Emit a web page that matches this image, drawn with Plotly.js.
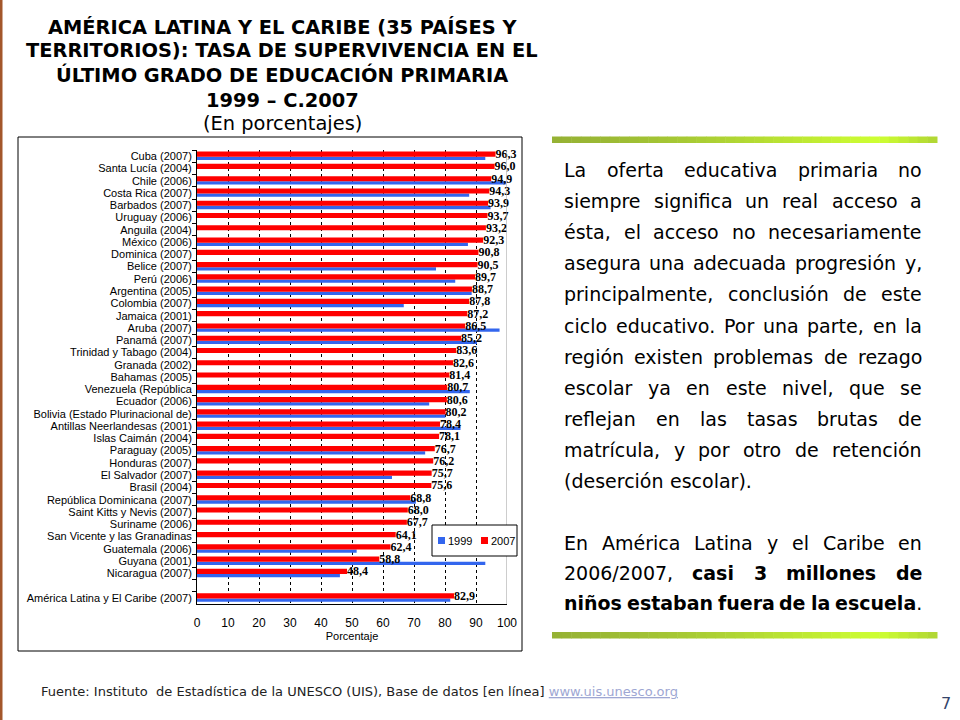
<!DOCTYPE html>
<html>
<head>
<meta charset="utf-8">
<script src="https://cdn.plot.ly/plotly-3.0.1.min.js"></script>
<style>
html,body{margin:0;padding:0;background:#ffffff;}
#chart{width:960px;height:720px;}
</style>
</head>
<body>
<div id="chart"></div>
<script>
// ---------------- DATA ----------------
const countries = [
  'Cuba (2007)','Santa Lucía (2004)','Chile (2006)','Costa Rica (2007)','Barbados (2007)',
  'Uruguay (2006)','Anguila (2004)','México (2006)','Dominica (2007)','Belice (2007)',
  'Perú (2006)','Argentina (2005)','Colombia (2007)','Jamaica (2001)','Aruba (2007)',
  'Panamá (2007)','Trinidad y Tabago (2004)','Granada (2002)','Bahamas (2005)','Venezuela (República',
  'Ecuador (2006)','Bolivia (Estado Plurinacional de)','Antillas Neerlandesas (2001)','Islas Caimán (2004)','Paraguay (2005)',
  'Honduras (2007)','El Salvador (2007)','Brasil (2004)','República Dominicana (2007)','Saint Kitts y Nevis (2007)',
  'Suriname (2006)','San Vicente y las Granadinas','Guatemala (2006)','Guyana (2001)','Nicaragua (2007)',
  'América Latina y El Caribe (2007)'
];
const rate1999 = [
  93.0, null, 99.6, 87.8, 94.7,
  null, null, 87.4, null, 77.1,
  83.3, 88.6, 66.7, null, 97.6,
  90.3, null, null, null, 88.0,
  74.9, 80.1, 85.0, null, 73.6,
  null, 62.9, null, 70.6, null,
  null, null, 51.5, 93.0, 46.1,
  81.7
];
const rate2007 = [
  96.3, 96.0, 94.9, 94.3, 93.9,
  93.7, 93.2, 92.3, 90.8, 90.5,
  89.7, 88.7, 87.8, 87.2, 86.5,
  85.2, 83.6, 82.6, 81.4, 80.7,
  80.6, 80.2, 78.4, 78.1, 76.7,
  76.2, 75.7, 75.6, 68.8, 68.0,
  67.7, 64.1, 62.4, 58.8, 48.4,
  82.9
];
const seriesNames = ['1999', '2007'];
const seriesColors = ['#3366ee', '#ff0000'];
const xTickVals = [0, 10, 20, 30, 40, 50, 60, 70, 80, 90, 100];
const xAxisTitle = 'Porcentaje';
const gapAfter = 35;      // blank row before the regional total
const gapLabel = ' ';

const titleLines = [
  '<b>AMÉRICA LATINA Y EL CARIBE (35 PAÍSES Y</b>',
  '<b>TERRITORIOS): TASA DE SUPERVIVENCIA EN EL</b>',
  '<b>ÚLTIMO GRADO DE EDUCACIÓN PRIMARIA</b>',
  '<b>1999 – C.2007</b>',
  '(En porcentajes)'
];
const para1 = [
  'La oferta educativa primaria no',
  'siempre significa un real acceso a',
  'ésta, el acceso no necesariamente',
  'asegura una adecuada progresión y,',
  'principalmente, conclusión de este',
  'ciclo educativo. Por una parte, en la',
  'región existen problemas de rezago',
  'escolar ya en este nivel, que se',
  'reflejan en las tasas brutas de',
  'matrícula, y por otro de retención',
  '(deserción escolar).'
];
const para2 = [
  'En América Latina y el Caribe en',
  '2006/2007, *casi* *3* *millones* *de*',
  '*niños* *estaban* *fuera* *de* *la* *escuela*.'
];
const sourceText = 'Fuente: Instituto  de Estadística de la UNESCO (UIS), Base de datos [en línea] ';
const sourceLink = 'www.uis.unesco.org';
const pageNumber = '7';

// ---------------- BUILD ----------------
const yCats = countries.slice(0, gapAfter).concat([gapLabel], countries.slice(gapAfter));
const withGap = arr => arr.slice(0, gapAfter).concat([null], arr.slice(gapAfter));
const x1999 = withGap(rate1999);
const x2007 = withGap(rate2007);
const fmt = v => (v === null ? '' : v.toFixed(1).replace('.', ','));

const L = 197, T = 150, PW = 310, PH = 454;
const X = px => (px - L) / PW;
const Y = py => 1 - (py - T) / PH;

const traces = [
  {
    type: 'bar', orientation: 'h', name: seriesNames[0],
    y: yCats, x: x1999,
    marker: {color: seriesColors[0]},
    width: 0.27, offset: 0.05,
    showlegend: false, hoverinfo: 'x+y'
  },
  {
    type: 'bar', orientation: 'h', name: seriesNames[1],
    y: yCats, x: x2007,
    marker: {color: seriesColors[1]},
    width: 0.42, offset: -0.37,
    text: x2007.map(fmt), textposition: 'outside', textangle: 0,
    constraintext: 'none', cliponaxis: false,
    textfont: {family: 'Liberation Serif', size: 12, color: '#000000', weight: 'bold'},
    showlegend: false, hoverinfo: 'x+y'
  }
];

const shapes = [];
const annotations = [];

// left brown strip
shapes.push({type: 'rect', xref: 'paper', yref: 'paper', x0: X(0), x1: X(2.5), y0: Y(0), y1: Y(720),
  fillcolor: '#a3572b', line: {width: 0}});
// chart frame
shapes.push({type: 'rect', xref: 'paper', yref: 'paper', x0: X(18), x1: X(522), y0: Y(137), y1: Y(651),
  line: {color: '#000000', width: 1}});
// plot-area right border at 100
shapes.push({type: 'line', xref: 'x', yref: 'paper', x0: 100, x1: 100, y0: 0, y1: 1,
  line: {color: '#9a9a9a', width: 1}});

// green gradient bars
function greenBar(yTop, yBot) {
  const x0 = 552, x1 = 937, n = 40;
  const dark = [150, 178, 52], light = [206, 255, 51];
  for (let i = 0; i < n; i++) {
    const t = (i + 0.5) / n;
    const f = t < 0.85 ? Math.pow(t / 0.85, 1.3) : 1 - 0.55 * (t - 0.85) / 0.15;
    const c = dark.map((d, k) => Math.round(d + (light[k] - d) * f));
    shapes.push({type: 'rect', xref: 'paper', yref: 'paper',
      x0: X(x0 + (x1 - x0) * i / n), x1: X(x0 + (x1 - x0) * (i + 1) / n + 0.5),
      y0: Y(yTop), y1: Y(yBot), fillcolor: 'rgb(' + c.join(',') + ')', line: {width: 0}});
  }
}
greenBar(136.5, 143);
greenBar(632, 638.5);

// legend (compact, Excel style)
shapes.push({type: 'rect', xref: 'paper', yref: 'paper', x0: X(432), x1: X(517), y0: Y(525), y1: Y(556),
  fillcolor: '#ffffff', line: {color: '#000000', width: 1}});
const legendX = [438, 481];
seriesNames.forEach((nm, i) => {
  shapes.push({type: 'rect', xref: 'paper', yref: 'paper',
    x0: X(legendX[i]), x1: X(legendX[i] + 7), y0: Y(537), y1: Y(544),
    fillcolor: seriesColors[i], line: {width: 0}});
  annotations.push({xref: 'paper', yref: 'paper', x: X(legendX[i] + 8.5), y: Y(540.5),
    xanchor: 'left', yanchor: 'middle', showarrow: false, borderpad: 0, text: nm,
    font: {family: 'Liberation Sans', size: 11, color: '#000000'}});
});

// title
const titleY = [27, 51, 75, 100, 123];
titleLines.forEach((t, i) => {
  annotations.push({xref: 'paper', yref: 'paper', x: X(282), y: Y(titleY[i]),
    xanchor: 'center', yanchor: 'middle', showarrow: false, text: t,
    font: {family: 'DejaVu Sans', size: 19.4, color: '#000000'}});
});

// justified paragraphs
const ctx = document.createElement('canvas').getContext('2d');
const TXT_SIZE = 19;
function measure(s, bold) {
  ctx.font = (bold ? 'bold ' : '') + TXT_SIZE + 'px "DejaVu Sans"';
  return ctx.measureText(s).width;
}
function parseWord(w) {
  const parts = w.split('*');
  let width = 0, html = '';
  parts.forEach((p, k) => {
    if (!p) return;
    const b = k % 2 === 1;
    width += measure(p, b);
    html += b ? '<b>' + p + '</b>' : p;
  });
  return {width, html};
}
function layLine(line, yPx, justify) {
  const words = line.split(' ').filter(Boolean).map(parseWord);
  const left = 563, right = 921;
  const total = words.reduce((s, w) => s + w.width, 0);
  const gap = (justify && words.length > 1) ? (right - left - total) / (words.length - 1) : measure(' ', false);
  let pos = left;
  words.forEach(w => {
    annotations.push({xref: 'paper', yref: 'paper', x: X(pos), y: Y(yPx),
      xanchor: 'left', yanchor: 'middle', showarrow: false, borderpad: 0, text: w.html,
      font: {family: 'DejaVu Sans', size: TXT_SIZE, color: '#000000'}});
    pos += w.width + gap;
  });
}
para1.forEach((ln, i) => layLine(ln, 170 + 31.1 * i, i < para1.length - 1));
para2.forEach((ln, i) => layLine(ln, 543 + 30 * i, true));

// source + page number
annotations.push({xref: 'paper', yref: 'paper', x: X(40), y: Y(691), xanchor: 'left', yanchor: 'middle',
  showarrow: false, borderpad: 0,
  text: sourceText + '<span style="color:#9ea7d3"><u>' + sourceLink + '</u></span>',
  font: {family: 'DejaVu Sans', size: 13, color: '#222222'}});
annotations.push({xref: 'paper', yref: 'paper', x: X(946), y: Y(703), xanchor: 'center', yanchor: 'middle',
  showarrow: false, text: pageNumber,
  font: {family: 'DejaVu Sans', size: 16, color: '#34446a'}});

const layout = {
  width: 960, height: 720, autosize: false,
  margin: {l: L, r: 960 - L - PW, t: T, b: 720 - T - PH, pad: 0},
  paper_bgcolor: '#ffffff', plot_bgcolor: 'rgba(0,0,0,0)',
  barmode: 'overlay', showlegend: false,
  xaxis: {
    range: [0, 100], tickvals: xTickVals, ticks: '',
    showgrid: true, gridcolor: '#000000', gridwidth: 1, griddash: '3px,3px',
    zeroline: false, showline: true, linecolor: '#000000', linewidth: 1,
    tickfont: {family: 'Liberation Sans', size: 12, color: '#000000'},
    ticklabelstandoff: 8,
    title: {text: xAxisTitle, font: {family: 'Liberation Sans', size: 11, color: '#000000'}, standoff: 2},
    fixedrange: true
  },
  yaxis: {
    type: 'category', categoryorder: 'array', categoryarray: yCats,
    tickmode: 'linear', tick0: 0, dtick: 1,
    autorange: 'reversed', showgrid: false, zeroline: false,
    showline: true, linecolor: '#000000', linewidth: 1,
    ticks: 'outside', tickson: 'boundaries', ticklen: 4, tickcolor: '#000000', tickwidth: 1,
    tickfont: {family: 'Liberation Sans', size: 11, color: '#000000'},
    ticklabelstandoff: 2,
    fixedrange: true
  },
  shapes, annotations
};

Plotly.newPlot('chart', traces, layout, {displayModeBar: false, staticPlot: true});
</script>
</body>
</html>
